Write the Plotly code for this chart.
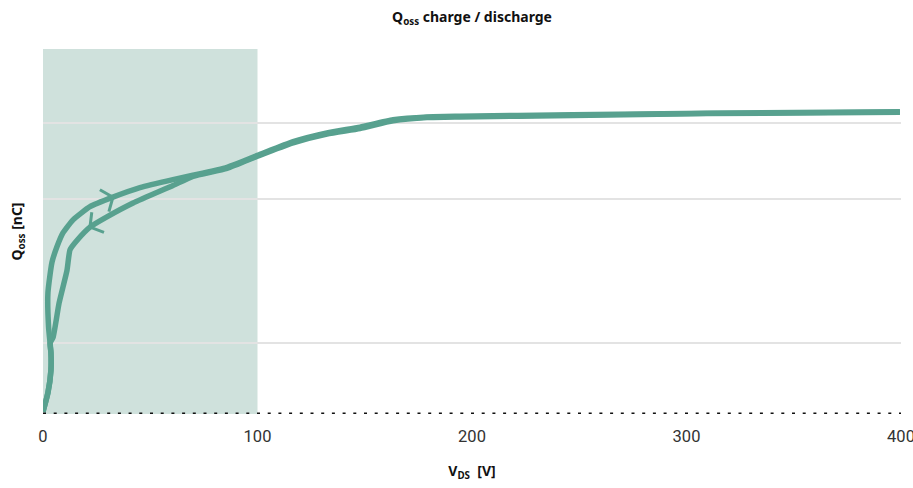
import math
import plotly.graph_objects as go

# Charge path (outer curve), V_DS [V] and Q_oss [nC]
charge_v = [0.0, 2.3, 3.7, 3.7, 3.3, 2.6, 2.3, 4.2, 6.5, 9.3, 14.0, 21.9, 32.6, 45.2, 60.6,
            69.9, 85.8, 100.7, 116.6, 132.4, 147.8, 163.2, 179.0, 194.4, 247.1, 309.6, 399.5]
charge_q = [0.3, 2.9, 6.0, 8.4, 9.7, 11.9, 16.6, 20.8, 22.9, 24.8, 26.6, 28.4, 29.7, 31.0, 32.1,
            32.7, 33.8, 35.5, 37.3, 38.5, 39.3, 40.3, 40.7, 40.8, 41.0, 41.2, 41.4]

# Discharge path (inner curve)
discharge_v = [399.5, 309.6, 247.1, 194.4, 179.0, 163.2, 147.8, 132.4, 116.6, 100.7, 85.8, 69.9,
               60.6, 42.0, 29.8, 21.9, 15.9, 12.6, 11.2, 7.5, 4.7, 3.3, 3.7, 3.7, 2.3, 0.0]
discharge_q = [41.35, 41.15, 40.9, 40.7, 40.6, 40.15, 39.1, 38.35, 37.15, 35.4, 33.65, 32.55,
               31.3, 28.9, 27.0, 25.6, 23.8, 22.5, 19.7, 15.2, 10.5, 9.7, 8.4, 6.0, 2.9, 0.3]

x_ticks = [0, 100, 200, 300, 400]
y_grid = [9.7, 29.5, 39.9, 50]
shade_range = [0, 100]
x_range = [0, 400]
y_range = [0, 50]

LINE = "#58a18f"
SHADE = "#cfe1dc"

W, H = 913, 488
ML, MR, MT, MB = 43, 12, 49, 74
px_per_x = (W - ML - MR) / (x_range[1] - x_range[0])
px_per_y = (H - MT - MB) / (y_range[1] - y_range[0])


def chevron(xs, ys, i, arm=15, ang=52):
    """Open arrow head at point i, pointing along the path direction (from point i-1)."""
    dx = (xs[i] - xs[i - 1]) * px_per_x
    dy = (ys[i] - ys[i - 1]) * px_per_y
    n = math.hypot(dx, dy)
    bx, by = -dx / n, -dy / n
    out_x, out_y = [], []
    for s in (ang, -ang):
        a = math.radians(s)
        rx = bx * math.cos(a) - by * math.sin(a)
        ry = bx * math.sin(a) + by * math.cos(a)
        out_x.append(xs[i] + rx * arm / px_per_x)
        out_y.append(ys[i] + ry * arm / px_per_y)
    return [out_x[0], xs[i], out_x[1]], [out_y[0], ys[i], out_y[1]]


fig = go.Figure()
fig.add_trace(go.Scatter(x=discharge_v, y=discharge_q, mode="lines",
                         line=dict(color=LINE, width=5.5, shape="spline", smoothing=0.5),
                         hoverinfo="skip", showlegend=False))
fig.add_trace(go.Scatter(x=charge_v, y=charge_q, mode="lines",
                         line=dict(color=LINE, width=5.5, shape="spline", smoothing=0.5),
                         hoverinfo="skip", showlegend=False))

for xs, ys, i in ((charge_v, charge_q, 12), (discharge_v, discharge_q, 15)):
    hx, hy = chevron(xs, ys, i)
    fig.add_trace(go.Scatter(x=hx, y=hy, mode="lines", line=dict(color=LINE, width=3),
                             hoverinfo="skip", showlegend=False))

fig.add_shape(type="rect", xref="x", yref="y", x0=shade_range[0], x1=shade_range[1],
              y0=y_range[0], y1=y_range[1], fillcolor=SHADE, line=dict(width=0), layer="below")
fig.add_shape(type="line", xref="x", yref="y", x0=x_range[0], x1=x_range[1], y0=0, y1=0,
              line=dict(color="#111111", width=3, dash="3px,7.7px"))

fig.update_layout(
    width=W, height=H,
    margin=dict(l=ML, r=MR, t=MT, b=MB, autoexpand=False),
    paper_bgcolor="white", plot_bgcolor="white",
    font=dict(family="Noto Sans, Open Sans, sans-serif", color="#222222"),
    title=dict(text="<b>Q<sub>oss</sub> charge / discharge</b>", x=0.517, xanchor="center",
               y=0.965, yanchor="middle", yref="container", font=dict(size=14, color="#111111")),
    xaxis=dict(range=x_range, tickvals=x_ticks, ticktext=[str(t) for t in x_ticks],
               showgrid=False, zeroline=False, showline=False, automargin=False,
               ticks="outside", ticklen=7, tickcolor="rgba(0,0,0,0)",
               ticklabeloverflow="allow",
               tickfont=dict(size=16.5, color="#333333", family="Liberation Sans Narrow, Roboto, sans-serif"),
               title=dict(text="<b>V<sub>DS</sub>  [V]</b>", standoff=21,
                          font=dict(size=14, color="#111111"))),
    yaxis=dict(range=y_range, tickvals=y_grid, showticklabels=False, showgrid=True,
               gridcolor="#e3e3e3", gridwidth=2, zeroline=False, showline=False, ticks="",
               automargin=False,
               title=dict(text="<b>Q<sub>oss</sub> [nC]</b>", standoff=16,
                          font=dict(size=14, color="#111111"))),
)

fig.write_html("out.html", config={"displayModeBar": False},
               post_script="document.body.style.margin='0';document.body.style.overflow='hidden';")
